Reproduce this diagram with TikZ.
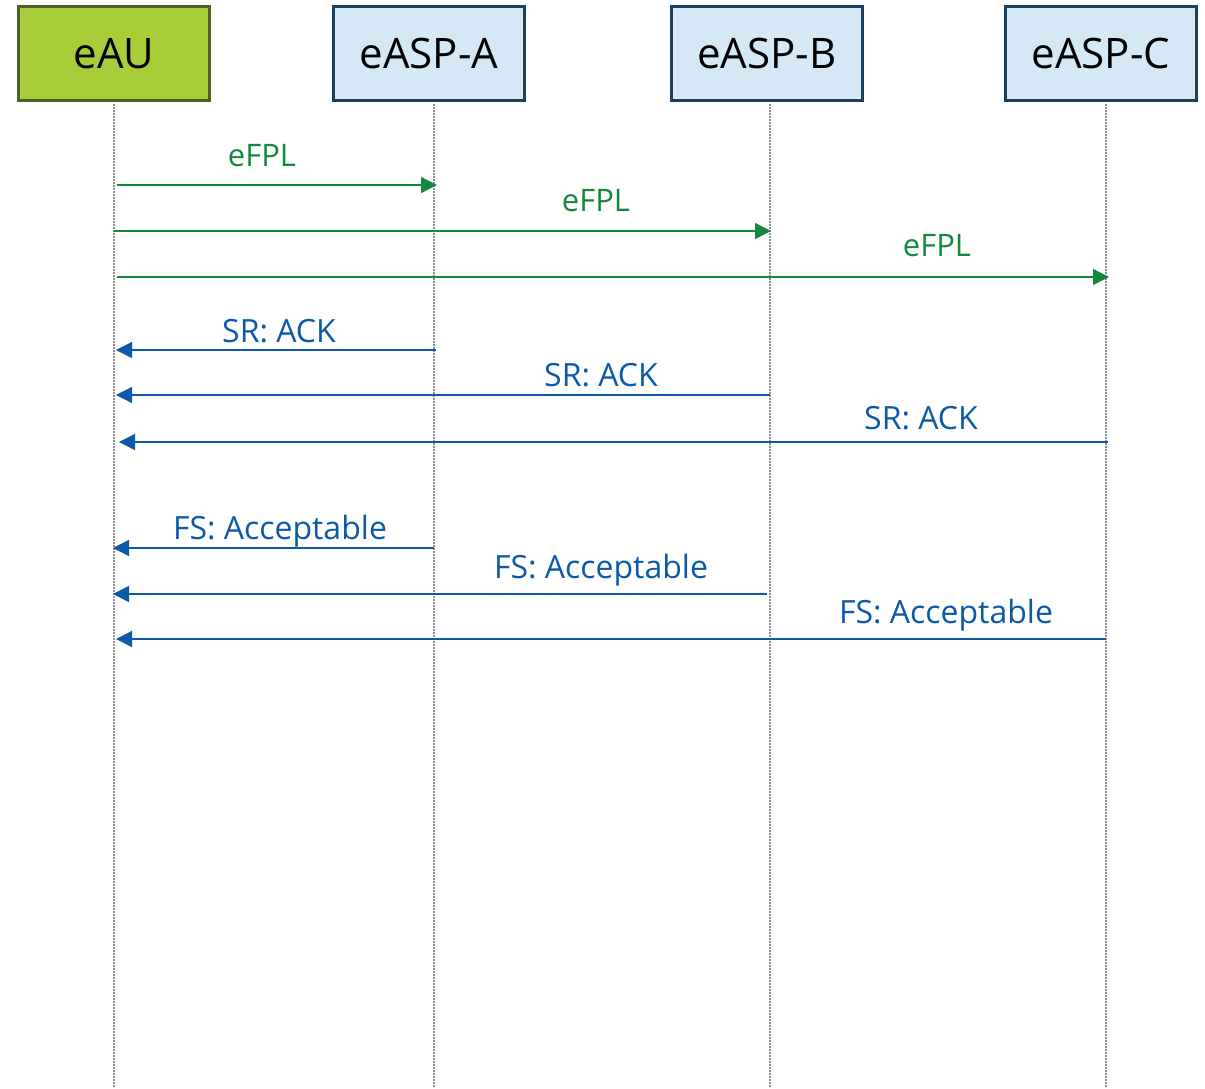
\documentclass[tikz,border=0pt]{standalone}
\usepackage{fontspec}
\setmainfont{Open Sans}
\usetikzlibrary{arrows.meta}
\definecolor{auFill}{HTML}{A7CE39}
\definecolor{auLine}{HTML}{4F6128}
\definecolor{aspFill}{HTML}{D5E8F5}
\definecolor{aspLine}{HTML}{1B3F5E}
\definecolor{reqGreen}{HTML}{12893F}
\definecolor{rspBlue}{HTML}{0B5AAA}
\begin{document}
\begin{tikzpicture}[x=1pt,y=-1pt,
  actor/.style={draw, line width=3pt, minimum width=191pt, minimum height=94pt,
    inner sep=0pt, font=\fontsize{42}{46}\selectfont, text=black},
  aubox/.style={actor, fill=auFill, draw=auLine},
  aspbox/.style={actor, fill=aspFill, draw=aspLine},
  lifeline/.style={draw=gray!85, line width=1.5pt, dash pattern=on 1.5pt off 1.5pt},
  req/.style={draw=reqGreen, line width=1.3pt, -{Triangle[length=16pt,width=16pt]}},
  rsp/.style={draw=rspBlue, line width=1.3pt, -{Triangle[length=16pt,width=16pt]}},
  reqlbl/.style={text=reqGreen, font=\fontsize{31}{35}\selectfont, anchor=base, inner sep=0pt},
  rsplbl/.style={text=rspBlue, font=\fontsize{32}{36}\selectfont, anchor=base, inner sep=0pt}]
\useasboundingbox (0,0) rectangle (1205,1088);

% participants
\node[aubox]  (au) at (114,53.5) {eAU};
\node[aspbox] (pa) at (429,53.5) {eASP-A};
\node[aspbox] (pb) at (767,53.5) {eASP-B};
\node[aspbox] (pc) at (1101,53.5) {eASP-C};

% lifelines
\coordinate (auTop) at (114,104);  \coordinate (auEnd) at (114,1088);
\coordinate (paTop) at (434,104);  \coordinate (paEnd) at (434,1088);
\coordinate (pbTop) at (770,104);  \coordinate (pbEnd) at (770,1088);
\coordinate (pcTop) at (1106,104); \coordinate (pcEnd) at (1106,1088);
\path[lifeline] (auTop) -- (auEnd);
\path[lifeline] (paTop) -- (paEnd);
\path[lifeline] (pbTop) -- (pbEnd);
\path[lifeline] (pcTop) -- (pcEnd);

% flight plan submissions
\coordinate (f1s) at (117,185);  \coordinate (f1e) at (437,185);
\coordinate (f2s) at (114,231);  \coordinate (f2e) at (771,231);
\coordinate (f3s) at (117,277);  \coordinate (f3e) at (1109,277);
\draw[req] (f1s) -- (f1e);
\draw[req] (f2s) -- (f2e);
\draw[req] (f3s) -- (f3e);
\node[reqlbl] (l1) at (262,166) {eFPL};
\node[reqlbl] (l2) at (596,211) {eFPL};
\node[reqlbl] (l3) at (937,256) {eFPL};

% acknowledgements
\coordinate (s1s) at (436,350);  \coordinate (s1e) at (116,350);
\coordinate (s2s) at (770,395);  \coordinate (s2e) at (116,395);
\coordinate (s3s) at (1108,442); \coordinate (s3e) at (119,442);
\draw[rsp] (s1s) -- (s1e);
\draw[rsp] (s2s) -- (s2e);
\draw[rsp] (s3s) -- (s3e);
\node[rsplbl] (a1) at (279,342.5) {SR: ACK};
\node[rsplbl] (a2) at (601,386.5) {SR: ACK};
\node[rsplbl] (a3) at (921,429.5) {SR: ACK};

% feasibility results
\coordinate (r1s) at (434,548);  \coordinate (r1e) at (113,548);
\coordinate (r2s) at (767,594);  \coordinate (r2e) at (113,594);
\coordinate (r3s) at (1106,639); \coordinate (r3e) at (116,639);
\draw[rsp] (r1s) -- (r1e);
\draw[rsp] (r2s) -- (r2e);
\draw[rsp] (r3s) -- (r3e);
\node[rsplbl] (b1) at (280,539) {FS: Acceptable};
\node[rsplbl] (b2) at (601,578.5) {FS: Acceptable};
\node[rsplbl] (b3) at (946,623.5) {FS: Acceptable};
\end{tikzpicture}
\end{document}
